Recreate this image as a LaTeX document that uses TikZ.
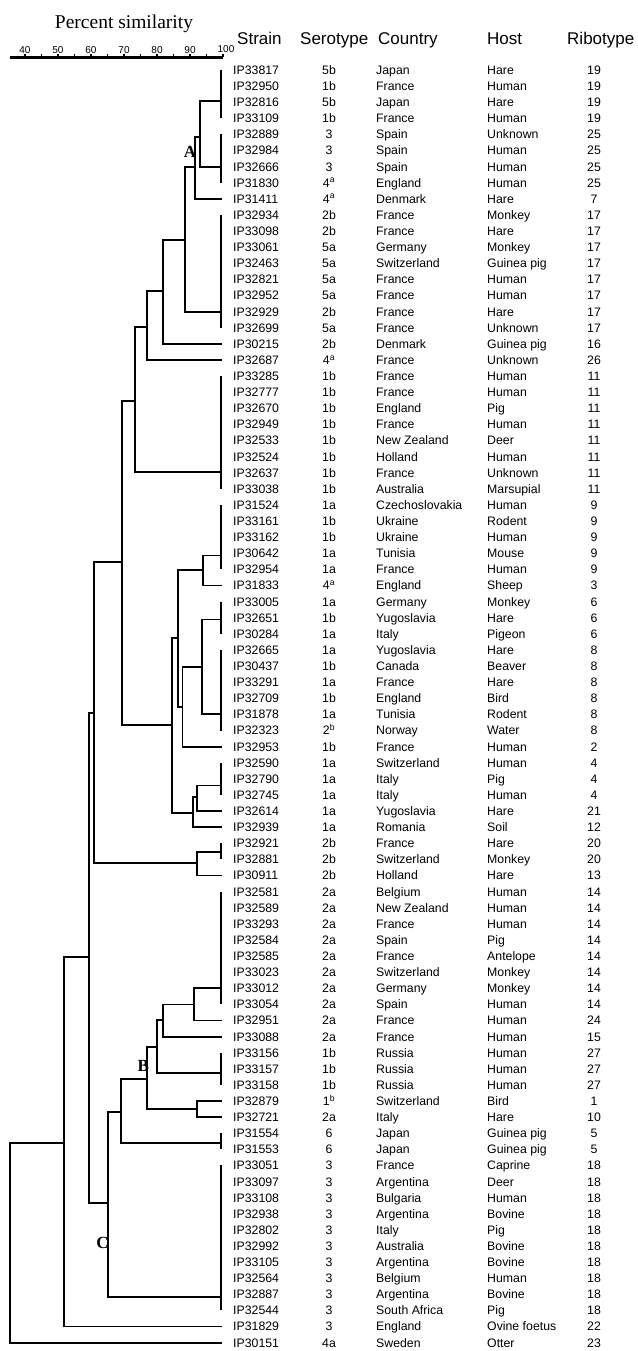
\documentclass[tikz,border=0pt]{standalone}
\usepackage{fontspec}
\setmainfont{Liberation Sans}
\newfontfamily\titlefont{Liberation Serif}
\usepackage{tikz}

\begin{document}
\begin{tikzpicture}[
  x=1pt, y=-1pt,
  tree/.style={line width=1.8pt},
  axis/.style={line width=2.2pt},
  ticklab/.style={font=\fontsize{10}{12}\selectfont, inner sep=0pt},
  title/.style={font=\titlefont\fontsize{19.5}{22}\selectfont, inner sep=0pt, anchor=base},
  head/.style={font=\fontsize{17}{20}\selectfont, inner sep=0pt, anchor=base west},
  cell/.style={font=\fontsize{12.3}{14}\selectfont, inner sep=0pt, yshift=-4.4pt},
  clab/.style={font=\titlefont\bfseries\fontsize{17}{20}\selectfont, inner sep=0pt},
]
  \useasboundingbox (0,0) rectangle (637,1351);

  % scale
  \node[title] (ttl) at (124,28.5) {Percent similarity};
  \draw[axis] (10,57.5) -- (223,57.5);
  \foreach \s in {40,45,...,100}
    \draw[line width=1.2pt] ({25+(\s-40)*3.3},57.5) -- ++(0,-3.5);
  \foreach \s in {40,50,...,90}
    \node[ticklab] (t\s) at ({25+(\s-40)*3.3},50) {\s};
  \node[ticklab] (t100) at (226,49) {100};

  % column heads
  \node[head] (hstrain) at (237,44.3) {Strain};
  \node[head] (hsero) at (300,44.3) {Serotype};
  \node[head] (hcountry) at (378,44.3) {Country};
  \node[head] (hhost) at (487,44.3) {Host};
  \node[head] (hribo) at (567,44.3) {Ribotype};

  % table rows
  \foreach \i/\st/\se/\co/\ho/\ri in {
    1/IP33817/5b/Japan/Hare/19, 2/IP32950/1b/France/Human/19,
    3/IP32816/5b/Japan/Hare/19, 4/IP33109/1b/France/Human/19,
    5/IP32889/3/Spain/Unknown/25, 6/IP32984/3/Spain/Human/25,
    7/IP32666/3/Spain/Human/25, 8/IP31830/4\textsuperscript{a}/England/Human/25,
    9/IP31411/4\textsuperscript{a}/Denmark/Hare/7, 10/IP32934/2b/France/Monkey/17,
    11/IP33098/2b/France/Hare/17, 12/IP33061/5a/Germany/Monkey/17,
    13/IP32463/5a/Switzerland/Guinea pig/17, 14/IP32821/5a/France/Human/17,
    15/IP32952/5a/France/Human/17, 16/IP32929/2b/France/Hare/17,
    17/IP32699/5a/France/Unknown/17, 18/IP30215/2b/Denmark/Guinea pig/16,
    19/IP32687/4\textsuperscript{a}/France/Unknown/26, 20/IP33285/1b/France/Human/11,
    21/IP32777/1b/France/Human/11, 22/IP32670/1b/England/Pig/11,
    23/IP32949/1b/France/Human/11, 24/IP32533/1b/New Zealand/Deer/11,
    25/IP32524/1b/Holland/Human/11, 26/IP32637/1b/France/Unknown/11,
    27/IP33038/1b/Australia/Marsupial/11, 28/IP31524/1a/Czechoslovakia/Human/9,
    29/IP33161/1b/Ukraine/Rodent/9, 30/IP33162/1b/Ukraine/Human/9,
    31/IP30642/1a/Tunisia/Mouse/9, 32/IP32954/1a/France/Human/9,
    33/IP31833/4\textsuperscript{a}/England/Sheep/3, 34/IP33005/1a/Germany/Monkey/6,
    35/IP32651/1b/Yugoslavia/Hare/6, 36/IP30284/1a/Italy/Pigeon/6,
    37/IP32665/1a/Yugoslavia/Hare/8, 38/IP30437/1b/Canada/Beaver/8,
    39/IP33291/1a/France/Hare/8, 40/IP32709/1b/England/Bird/8,
    41/IP31878/1a/Tunisia/Rodent/8, 42/IP32323/2\textsuperscript{b}/Norway/Water/8,
    43/IP32953/1b/France/Human/2, 44/IP32590/1a/Switzerland/Human/4,
    45/IP32790/1a/Italy/Pig/4, 46/IP32745/1a/Italy/Human/4,
    47/IP32614/1a/Yugoslavia/Hare/21, 48/IP32939/1a/Romania/Soil/12,
    49/IP32921/2b/France/Hare/20, 50/IP32881/2b/Switzerland/Monkey/20,
    51/IP30911/2b/Holland/Hare/13, 52/IP32581/2a/Belgium/Human/14,
    53/IP32589/2a/New Zealand/Human/14, 54/IP33293/2a/France/Human/14,
    55/IP32584/2a/Spain/Pig/14, 56/IP32585/2a/France/Antelope/14,
    57/IP33023/2a/Switzerland/Monkey/14, 58/IP33012/2a/Germany/Monkey/14,
    59/IP33054/2a/Spain/Human/14, 60/IP32951/2a/France/Human/24,
    61/IP33088/2a/France/Human/15, 62/IP33156/1b/Russia/Human/27,
    63/IP33157/1b/Russia/Human/27, 64/IP33158/1b/Russia/Human/27,
    65/IP32879/1\textsuperscript{b}/Switzerland/Bird/1, 66/IP32721/2a/Italy/Hare/10,
    67/IP31554/6/Japan/Guinea pig/5, 68/IP31553/6/Japan/Guinea pig/5,
    69/IP33051/3/France/Caprine/18, 70/IP33097/3/Argentina/Deer/18,
    71/IP33108/3/Bulgaria/Human/18, 72/IP32938/3/Argentina/Bovine/18,
    73/IP32802/3/Italy/Pig/18, 74/IP32992/3/Australia/Bovine/18,
    75/IP33105/3/Argentina/Bovine/18, 76/IP32564/3/Belgium/Human/18,
    77/IP32887/3/Argentina/Bovine/18, 78/IP32544/3/South Africa/Pig/18,
    79/IP31829/3/England/Ovine foetus/22, 80/IP30151/4a/Sweden/Otter/23} {
    \pgfmathsetmacro\yy{70+(\i-1)*16.11}
    \coordinate (l\i) at (222,\yy);
    \node[cell, anchor=base west] (st\i) at (233,\yy) {\st};
    \node[cell, anchor=base] (se\i) at (329,\yy) {\se};
    \node[cell, anchor=base west] (co\i) at (376,\yy) {\co};
    \node[cell, anchor=base west] (ho\i) at (487,\yy) {\ho};
    \node[cell, anchor=base] (ri\i) at (594,\yy) {\ri};
  }

  % bars joining identical strains
  \foreach \n/\a/\b/\c in {1/1/4/101, 2/5/8/166.7, 3/10/17/311.7, 4/20/27/471.7,
      5/28/32/555.5, 6/34/36/619.5, 7/37/42/714.3, 8/44/46/785.5, 9/49/50/851.7,
      10/52/59/988.3, 11/62/64/1073.3, 12/67/68/1143.3, 13/69/78/1296.7} {
    \pgfmathsetmacro\ya{70+(\a-1)*16.11}
    \pgfmathsetmacro\yb{70+(\b-1)*16.11}
    \draw[tree] (221,\ya) -- (221,\yb);
    \coordinate (b\n) at (221,\c);
  }

  % cluster A
  \coordinate (a1) at (200,136.7);
  \coordinate (a2) at (195,166.7);
  \coordinate (a3) at (185,240);
  \coordinate (a4) at (163.3,290.7);
  \coordinate (a5) at (146.7,326.7);
  \coordinate (a6) at (135,400.7);
  \draw[tree] (b1) -| (a1) |- (b2);
  \draw[tree] (a1) -| (a2) |- (l9);
  \draw[tree] (a2) -| (a3) |- (b3);
  \draw[tree] (a3) -| (a4) |- (l18);
  \draw[tree] (a4) -| (a5) |- (l19);
  \draw[tree] (a5) -| (a6) |- (b4);

  % middle part
  \coordinate (n1) at (203.3,570);
  \coordinate (n2) at (202,667);
  \coordinate (n3) at (182.5,707);
  \coordinate (n4) at (178,638.3);
  \coordinate (n5) at (197,797);
  \coordinate (n6) at (193.3,812.7);
  \coordinate (n7) at (172,725);
  \coordinate (n8) at (122,562.3);
  \coordinate (n9) at (197,863.3);
  \coordinate (n10) at (94,713.3);
  \draw[tree] (b5) -| (n1) |- (l33);
  \draw[tree] (b6) -| (n2) |- (b7);
  \draw[tree] (n2) -| (n3) |- (l43);
  \draw[tree] (n1) -| (n4) |- (n3);
  \draw[tree] (b8) -| (n5) |- (l47);
  \draw[tree] (n5) -| (n6) |- (l48);
  \draw[tree] (n4) -| (n7) |- (n6);
  \draw[tree] (a6) -| (n8) |- (n7);
  \draw[tree] (b9) -| (n9) |- (l51);
  \draw[tree] (n8) -| (n10) |- (n9);

  % clusters B and C
  \coordinate (c1) at (194.3,1004.5);
  \coordinate (c2) at (163.3,1020);
  \coordinate (c3) at (157.3,1046.7);
  \coordinate (c4) at (197,1109);
  \coordinate (c5) at (147.3,1079.3);
  \coordinate (c6) at (120.7,1111.7);
  \coordinate (c7) at (108.3,1203.3);
  \draw[tree] (b10) -| (c1) |- (l60);
  \draw[tree] (c1) -| (c2) |- (l61);
  \draw[tree] (c2) -| (c3) |- (b11);
  \draw[tree] (l65) -| (c4) |- (l66);
  \draw[tree] (c3) -| (c5) |- (c4);
  \draw[tree] (c5) -| (c6) |- (b12);
  \draw[tree] (c6) -| (c7) |- (b13);

  % root
  \coordinate (n11) at (89,956.7);
  \coordinate (n12) at (64,1143.3);
  \coordinate (root) at (10,1243.3);
  \draw[tree] (n10) -| (n11) |- (c7);
  \draw[tree] (n11) -| (n12) |- (l79);
  \draw[tree] (n12) -| (root) |- (l80);

  \node[clab] (labA) at (190,151.5) {A};
  \node[clab] (labB) at (143.3,1066) {B};
  \node[clab] (labC) at (102.5,1242.5) {C};
\end{tikzpicture}
\end{document}
